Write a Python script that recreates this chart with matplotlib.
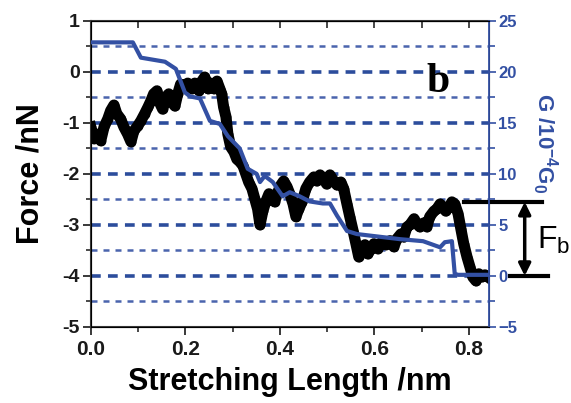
import numpy as np
import matplotlib
matplotlib.use("Agg")
import matplotlib.pyplot as plt

plt.rcParams['font.family'] = ['Liberation Sans', 'DejaVu Sans']
plt.rcParams['mathtext.fontset'] = 'custom'
plt.rcParams['mathtext.rm'] = 'Liberation Sans:bold'
plt.rcParams['mathtext.bf'] = 'Liberation Sans:bold'

# force trace (black)
force_x = [0.000, 0.006, 0.013, 0.021, 0.028, 0.036, 0.042, 0.049, 0.055, 0.063,
           0.070, 0.078, 0.085, 0.091, 0.099, 0.106, 0.114, 0.121, 0.127, 0.133,
           0.140, 0.146, 0.152, 0.159, 0.165, 0.171, 0.178, 0.184, 0.190, 0.199,
           0.205, 0.214, 0.220, 0.229, 0.235, 0.241, 0.248, 0.254, 0.260, 0.267,
           0.273, 0.277, 0.281, 0.286, 0.290, 0.296, 0.303, 0.309, 0.315, 0.322,
           0.328, 0.334, 0.341, 0.347, 0.353, 0.358, 0.364, 0.370, 0.377, 0.383,
           0.389, 0.396, 0.402, 0.408, 0.415, 0.421, 0.428, 0.434, 0.440, 0.447,
           0.455, 0.463, 0.472, 0.478, 0.485, 0.493, 0.499, 0.506, 0.514, 0.521,
           0.529, 0.535, 0.542, 0.548, 0.555, 0.561, 0.567, 0.574, 0.580, 0.586,
           0.593, 0.599, 0.607, 0.616, 0.624, 0.633, 0.641, 0.648, 0.656, 0.662,
           0.669, 0.675, 0.684, 0.690, 0.696, 0.705, 0.711, 0.717, 0.726, 0.732,
           0.739, 0.745, 0.751, 0.758, 0.764, 0.770, 0.777, 0.783, 0.789, 0.796,
           0.802, 0.808, 0.815, 0.821, 0.828, 0.834, 0.840]
force_y = [-1.08, -1.31, -1.22, -1.35, -1.08, -0.92, -0.76, -0.65, -0.82, -0.92,
           -1.08, -1.22, -1.37, -1.16, -1.06, -0.96, -0.82, -0.69, -0.57, -0.43,
           -0.37, -0.61, -0.73, -0.49, -0.43, -0.59, -0.67, -0.43, -0.24, -0.29,
           -0.22, -0.33, -0.22, -0.37, -0.18, -0.10, -0.33, -0.22, -0.33, -0.18,
           -0.33, -0.43, -0.69, -0.88, -1.22, -1.47, -1.57, -1.71, -1.76, -1.84,
           -2.00, -2.16, -2.29, -2.49, -2.69, -3.00, -2.73, -2.55, -2.39, -2.49,
           -2.55, -2.35, -2.22, -2.14, -2.25, -2.39, -2.59, -2.84, -2.69, -2.55,
           -2.29, -2.16, -2.06, -2.14, -2.02, -2.10, -2.20, -2.02, -2.14, -2.22,
           -2.16, -2.29, -2.59, -2.84, -3.12, -3.37, -3.63, -3.47, -3.39, -3.57,
           -3.47, -3.37, -3.47, -3.33, -3.39, -3.31, -3.43, -3.27, -3.18, -3.24,
           -3.04, -3.00, -2.88, -2.98, -3.04, -2.96, -3.04, -2.84, -2.73, -2.69,
           -2.59, -2.65, -2.73, -2.65, -2.55, -2.59, -2.78, -3.08, -3.37, -3.63,
           -3.82, -4.02, -4.10, -3.96, -4.02, -3.98, -4.02]

# conductance trace (blue), G in units of 1e-4 G0
cond_x = [0.000, 0.089, 0.106, 0.157, 0.180, 0.199, 0.210, 0.231, 0.252, 0.273,
          0.290, 0.315, 0.332, 0.351, 0.358, 0.368, 0.385, 0.406, 0.421, 0.442,
          0.463, 0.491, 0.506, 0.521, 0.542, 0.563, 0.654, 0.703, 0.739, 0.749,
          0.764, 0.770, 0.777, 0.842]
cond_g = [22.9, 22.9, 21.4, 21.0, 20.3, 18.0, 17.6, 17.4, 15.2, 14.9,
          13.7, 12.5, 10.5, 10.0, 9.2, 9.8, 9.2, 7.8, 8.2, 7.8,
          7.3, 7.1, 7.1, 5.9, 4.4, 4.1, 3.6, 3.4, 2.8, 3.3,
          3.4, 0.2, 0.1, 0.1]

major_levels = [0, -1, -2, -3, -4]
minor_levels = [0.5, -0.5, -1.5, -2.5, -3.5, -4.5]
fb_top, fb_bottom = -2.55, -4.0

blue = '#3350a3'
dark = '#2a2a2a'

fig, ax = plt.subplots(figsize=(5.71, 4.03), dpi=100)
fig.subplots_adjust(left=0.159, right=0.856, bottom=0.189, top=0.948)

# dashed reference lines
for lev in major_levels:
    ax.axhline(lev, color='#2c4d9c', lw=2.6, ls=(0, (2.7, 2.0)), zorder=1)
for lev in minor_levels:
    ax.axhline(lev, color='#4a64ad', lw=1.8, ls=(0, (2.4, 2.4)), zorder=1)

# force data
ax.plot(force_x, force_y, color='black', lw=8, marker='o', ms=6,
        solid_joinstyle='round', zorder=2)

ax.set_xlim(0, 0.842)
ax.set_ylim(-5, 1)
ax.set_xticks([0.0, 0.2, 0.4, 0.6, 0.8])
ax.set_xticks([0.1, 0.3, 0.5, 0.7], minor=True)
ax.set_yticks([1, 0, -1, -2, -3, -4, -5])
ax.set_yticks(minor_levels, minor=True)
ax.set_yticklabels(['1', '0', '-1', '-2', '-3', '-4', '-5'])
ax.set_xticklabels(['0.0', '0.2', '0.4', '0.6', '0.8'])
ax.tick_params(which='major', length=6, width=1.3, color=dark, labelsize=15,
               labelcolor='#1a1a1a')
ax.tick_params(which='minor', length=3.5, width=1.2, color=dark)
ax.tick_params(axis='y', labelsize=14, pad=2)
for t in ax.get_xticklabels() + ax.get_yticklabels():
    t.set_fontweight('bold')
for s in ['left', 'bottom', 'top']:
    ax.spines[s].set_color('#3a3a3a')
    ax.spines[s].set_linewidth(1.5)

ax.set_xlabel('Stretching Length /nm', fontsize=22, fontweight='bold', labelpad=6)
ax.set_ylabel('Force /nN', fontsize=22, fontweight='bold', labelpad=12)

# small inward ticks along the top
top = ax.secondary_xaxis('top')
top.set_xticks([0.1, 0.2, 0.3, 0.4, 0.5, 0.6, 0.7, 0.8])
top.tick_params(direction='in', length=5, width=1.2, color=dark, labeltop=False)

# conductance on the right axis
ax2 = ax.twinx()
ax2.plot(cond_x, cond_g, color=blue, lw=3, zorder=3)
ax2.set_ylim(-5, 25)
ax2.set_yticks([25, 20, 15, 10, 5, 0, -5])
ax2.set_yticks([22.5, 17.5, 12.5, 7.5, 2.5, -2.5], minor=True)
ax2.tick_params(which='major', length=5, width=1.2, color=blue, labelsize=12,
                labelcolor=blue, pad=2)
ax2.tick_params(which='minor', length=4, width=1.2, color=blue)
for t in ax2.get_yticklabels():
    t.set_fontweight('bold')
ax2.spines['right'].set_color(blue)
ax2.spines['right'].set_linewidth(1.3)
ax2.set_ylabel(r'G /10$^{-4}$G$_{0}$', fontsize=16, fontweight='bold', color=blue,
               rotation=270, ha='center', va='center')
ax2.yaxis.set_label_coords(1.14, 0.60)

# panel letter
ax.text(0.734, -0.39, 'b', family='Liberation Serif', fontweight='bold',
        fontsize=30, ha='center', va='baseline', zorder=4)

# F_b marker
ax.plot([0.789, 0.955], [fb_top, fb_top], color='black', lw=3, clip_on=False, zorder=5)
ax.plot([0.887, 0.967], [fb_bottom, fb_bottom], color='black', lw=3, clip_on=False, zorder=5)
ax.annotate('', xy=(0.918, fb_top), xytext=(0.918, fb_bottom),
            arrowprops=dict(arrowstyle='<|-|>', color='black', lw=2.5,
                            mutation_scale=18, shrinkA=0, shrinkB=0),
            annotation_clip=False)
ax.text(0.945, -3.3, r'F$_{\mathregular{b}}$', fontsize=23, ha='left', va='center',
        clip_on=False)

fig.savefig('out.png', dpi=100)
